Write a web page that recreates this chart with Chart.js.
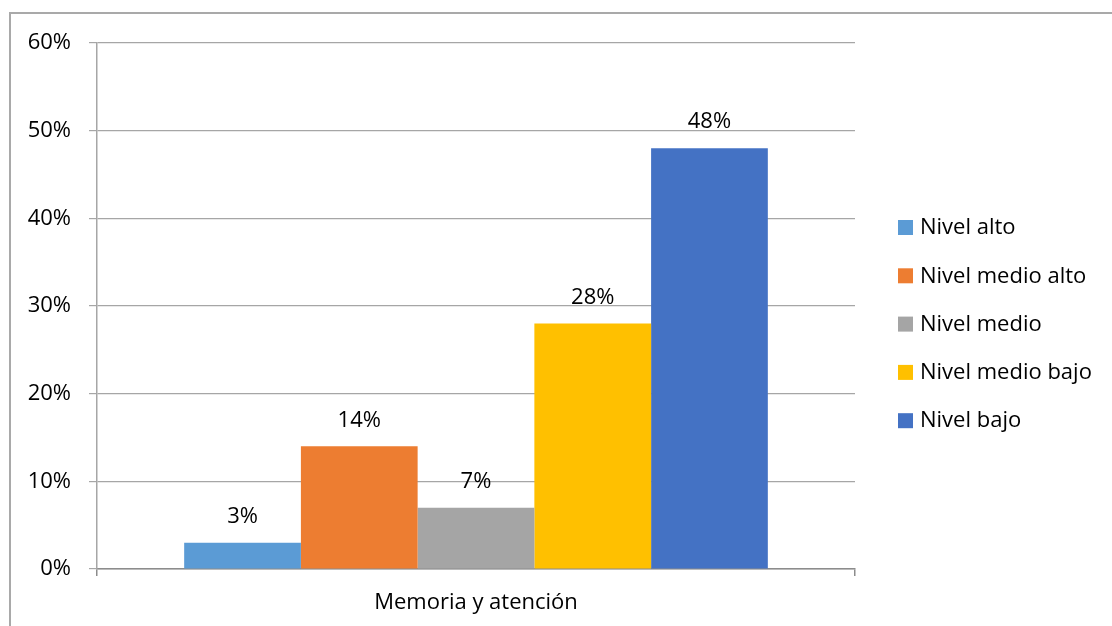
<!DOCTYPE html>
<html lang="es">
<head>
    <meta charset="UTF-8">
    <title>Memoria y atención</title>
    <style>
        * { margin: 0; padding: 0; box-sizing: border-box; }
        body { width: 1112px; height: 626px; background: #fff; overflow: hidden; position: relative; }
        .marco {
            position: absolute; left: 9px; top: 12px; width: 1200px; height: 700px;
            border-left: 2px solid #a9a9a9; border-top: 2px solid #a9a9a9;
        }
        .wrap { position: absolute; left: 0; top: 0; width: 1112px; height: 626px; }
    </style>
</head>
<body>
    <div class="marco"></div>
    <div class="wrap"><canvas id="grafico"></canvas></div>

    <script src="https://cdn.jsdelivr.net/npm/chart.js"></script>
    <script>
        // Datos
        const categorias = ['Memoria y atención'];
        const niveles = ['Nivel alto', 'Nivel medio alto', 'Nivel medio', 'Nivel medio bajo', 'Nivel bajo'];
        const porcentajes = [3, 14, 7, 28, 48];
        const colores = ['#5B9BD5', '#ED7D31', '#A5A5A5', '#FFC000', '#4472C4'];
        const ticksY = [0, 10, 20, 30, 40, 50, 60];

        const fuente = "'Open Sans', 'Liberation Sans', sans-serif";
        const tam = 22;

        // Etiquetas encima de cada barra
        const etiquetas = {
            id: 'etiquetas',
            afterDatasetsDraw(chart) {
                const ctx = chart.ctx;
                ctx.save();
                ctx.font = tam + 'px ' + fuente;
                ctx.fillStyle = '#000';
                ctx.textAlign = 'center';
                ctx.textBaseline = 'middle';
                chart.data.datasets.forEach((ds, i) => {
                    chart.getDatasetMeta(i).data.forEach((bar, j) => {
                        ctx.fillText(ds.data[j] + '%', bar.x, bar.y - 26);
                    });
                });
                ctx.restore();
            }
        };

        // Leyenda a la derecha
        const leyenda = {
            id: 'leyenda',
            afterDraw(chart) {
                const ctx = chart.ctx;
                const x = chart.chartArea.right + 43;
                const y0 = 227, paso = 48.3;
                ctx.save();
                ctx.font = tam + 'px ' + fuente;
                ctx.textBaseline = 'middle';
                chart.data.datasets.forEach((ds, i) => {
                    const y = y0 + i * paso;
                    ctx.fillStyle = ds.backgroundColor;
                    ctx.fillRect(x, y - 7, 15, 15);
                    ctx.fillStyle = '#000';
                    ctx.fillText(ds.label, x + 22, y + 1);
                });
                ctx.restore();
            }
        };

        new Chart(document.getElementById('grafico'), {
            type: 'bar',
            data: {
                labels: categorias,
                datasets: niveles.map((n, i) => ({
                    label: n,
                    data: [porcentajes[i]],
                    backgroundColor: colores[i],
                    categoryPercentage: 0.77,
                    barPercentage: 1
                }))
            },
            options: {
                responsive: true,
                maintainAspectRatio: false,
                animation: false,
                layout: { padding: { left: 0, top: 43, right: 257, bottom: 0 } },
                plugins: { legend: { display: false }, tooltip: { enabled: false } },
                scales: {
                    x: {
                        grid: { offset: true, drawOnChartArea: false, tickLength: 7, color: '#8c8c8c', lineWidth: 1.5 },
                        border: { color: '#8c8c8c', width: 1.5 },
                        ticks: { color: '#000', font: { family: fuente, size: tam }, padding: 14 },
                        afterFit: s => { s.height = 57; }
                    },
                    y: {
                        min: 0, max: 60,
                        afterBuildTicks: s => { s.ticks = ticksY.map(v => ({ value: v })); },
                        grid: { color: '#a6a6a6', lineWidth: 1.2, tickLength: 8 },
                        border: { color: '#a6a6a6', width: 1.5 },
                        ticks: { color: '#000', font: { family: fuente, size: tam }, padding: 18, callback: v => v + '%' },
                        afterFit: s => { s.width = 97; }
                    }
                }
            },
            plugins: [etiquetas, leyenda]
        });
    </script>
</body>
</html>
